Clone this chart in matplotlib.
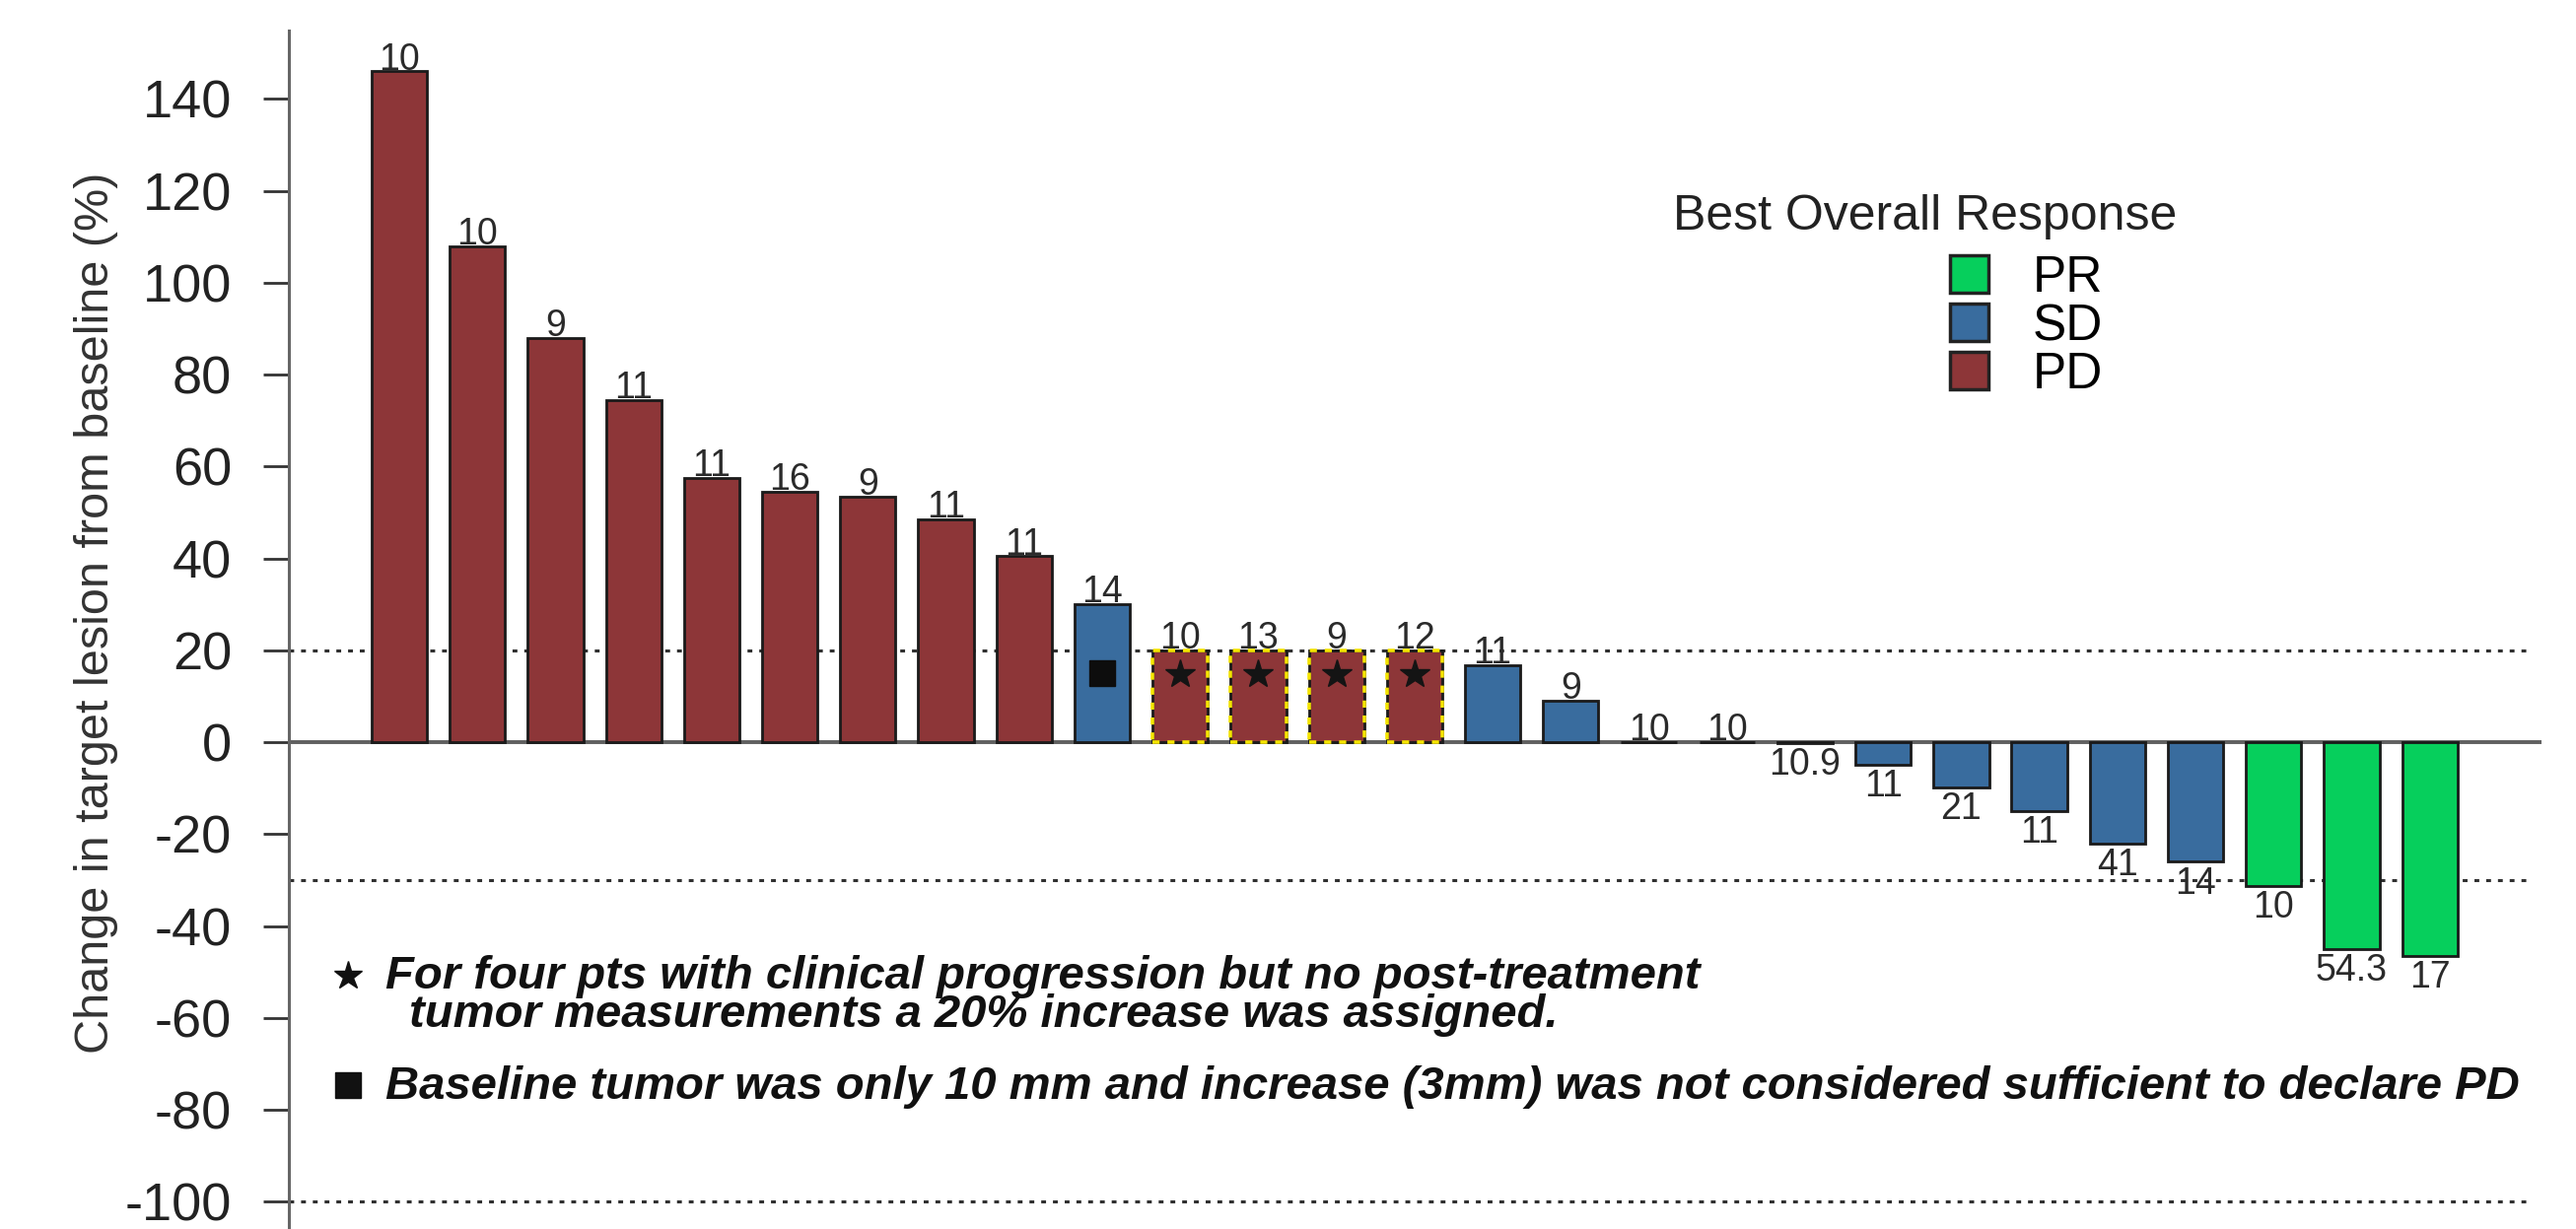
import numpy as np
import matplotlib.pyplot as plt
from matplotlib.patches import Patch

plt.rcParams['axes.unicode_minus'] = False
plt.rcParams['font.family'] = ['Liberation Sans', 'DejaVu Sans']
NARROW = ['Liberation Sans Narrow', 'Liberation Sans', 'DejaVu Sans']

# ── data ─────────────────────────────────────────────────────────────────────
response = ["PD"] * 9 + ["SD"] + ["PD"] * 4 + ["SD"] * 10 + ["PR"] * 3
change = [146, 108, 88, 74.5, 57.5, 54.5, 53.5, 48.5, 40.5,
          30,
          20, 20, 20, 20,
          16.8, 9, 0, 0, -0.1, -4.8, -9.8, -15, -22, -26,
          -31.3, -45, -46.5]
bar_labels = ["10", "10", "9", "11", "11", "16", "9", "11", "11",
              "14",
              "10", "13", "9", "12",
              "11", "9", "10", "10", "10.9", "11", "21", "11", "41", "14",
              "10", "54.3", "17"]
# bars with clinical progression only (20% assigned) and the small-baseline SD bar
assigned_20 = [10, 11, 12, 13]
small_baseline = [9]

legend_order = ["PR", "SD", "PD"]
colours = {"PR": "#06cf5c", "SD": "#396c9e", "PD": "#8d3638"}

thresholds = [20, -30, -100]
yticks = list(range(-100, 141, 20))

# ── figure ────────────────────────────────────────────────────────────────────
W, H = 2613, 1247
fig = plt.figure(figsize=(W / 100, H / 100), dpi=100)
ax = fig.add_axes([293 / W, 0, (2578 - 293) / W, (H - 31) / H])

x = np.arange(len(change))
vals = np.array(change)
bar_w = 0.71

ax.bar(x, vals, width=bar_w, color=[colours[r] for r in response],
       edgecolor="#1a1a1a", linewidth=2, zorder=3)

# yellow dashed outline on the four assigned bars
ax.bar(x[assigned_20], vals[assigned_20], width=bar_w, fill=False,
       edgecolor="#f5e400", linewidth=2.6, linestyle=(0, (2, 2.2)), zorder=4)
ax.plot(x[assigned_20], vals[assigned_20] * 0.74, ls="none", marker="*",
        ms=22, color="#141414", zorder=5)
ax.plot(x[small_baseline], vals[small_baseline] * 0.5, ls="none", marker="s",
        ms=19, color="#0d0d0d", zorder=5)

# sample labels above/below bars
for xi, v, lab in zip(x, vals, bar_labels):
    if v >= 0:
        ax.text(xi, v + 0.4, lab, ha="center", va="baseline", fontsize=27,
                color="#2a2a2a", zorder=6)
    else:
        ax.text(xi, v - 0.9, lab, ha="center", va="top", fontsize=27,
                color="#2a2a2a", zorder=6)

# reference lines
ax.axhline(0, color="#606060", lw=2.8, zorder=2)
for t in thresholds:
    ax.axhline(t, xmax=0.9956, color="#303030", lw=2.2,
               linestyle=(0, (1.6, 2.3)), zorder=1)

ax.set_xlim(-1.414, 27.43)
ax.set_ylim(-105.9, 154.9)
ax.set_yticks(yticks)
ax.set_yticklabels([str(t) for t in yticks])
ax.set_xticks([])
ax.tick_params(axis="y", length=18.7, width=2, pad=23, labelsize=39,
               colors="#333333", labelcolor="#222222")
for lab in ax.get_yticklabels():
    lab.set_family(NARROW)
for s in ["top", "right", "bottom"]:
    ax.spines[s].set_visible(False)
ax.spines["left"].set_color("#666666")
ax.spines["left"].set_linewidth(2.2)

fig.text(98 / W, 1 - 622 / H, "Change in target lesion from baseline (%)",
         rotation=90, ha="center", va="center", fontsize=35, color="#333333")

# legend
fig.text(1697 / W, 1 - 233 / H, "Best Overall Response", fontsize=36,
         va="baseline", ha="left", color="#222222")
handles = [Patch(facecolor=colours[k], edgecolor="#222222", linewidth=2.5)
           for k in legend_order]
ax.legend(handles, legend_order, loc="upper left",
          bbox_to_anchor=(1978 / W, 1 - 258 / H), bbox_transform=fig.transFigure,
          frameon=False, prop={"family": NARROW, "size": 37},
          handlelength=0.76, handleheight=0.76, handletextpad=0.87,
          labelspacing=0, borderpad=0, borderaxespad=0)

# footnotes
note_kw = dict(family=NARROW, weight="bold", style="italic", fontsize=34,
               color="#111111", va="baseline", ha="left")
fig.text(391 / W, 1 - 1003 / H,
         "For four pts with clinical progression but no post-treatment", **note_kw)
fig.text(415 / W, 1 - 1042 / H,
         "tumor measurements a 20% increase was assigned.", **note_kw)
fig.text(391 / W, 1 - 1115 / H,
         "Baseline tumor was only 10 mm and increase (3mm) was not considered "
         "sufficient to declare PD", **note_kw)
fig.lines.append(plt.Line2D([353 / W], [1 - 990 / H], marker="*", ms=21,
                            color="#111111", transform=fig.transFigure))
fig.lines.append(plt.Line2D([353 / W], [1 - 1101 / H], marker="s", ms=19,
                            color="#111111", transform=fig.transFigure))

fig.savefig("out.png", dpi=100, facecolor="white")
